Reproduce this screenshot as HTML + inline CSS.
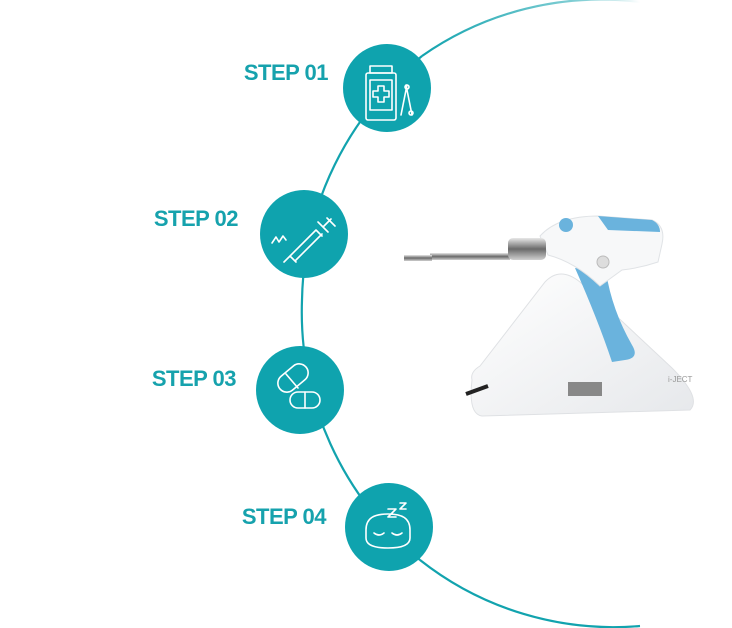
<!DOCTYPE html>
<html><head><meta charset="utf-8"><style>
html,body{margin:0;padding:0;background:#fff;}
svg{display:block}
</style></head><body>
<svg width="732" height="628" viewBox="0 0 732 628" xmlns="http://www.w3.org/2000/svg">
<defs>
<linearGradient id="fade" x1="0" y1="0" x2="1" y2="0">
<stop offset="0" stop-color="#12a3ae"/><stop offset="0.75" stop-color="#12a3ae" stop-opacity="0.5"/><stop offset="1" stop-color="#12a3ae" stop-opacity="0"/>
</linearGradient>
<linearGradient id="base" x1="0" y1="0" x2="1" y2="1">
<stop offset="0" stop-color="#ffffff"/><stop offset="1" stop-color="#e6e8eb"/>
</linearGradient>
<linearGradient id="metal" x1="0" y1="0" x2="0" y2="1">
<stop offset="0" stop-color="#e8e8e8"/><stop offset="0.5" stop-color="#6a6a6a"/><stop offset="1" stop-color="#d0d0d0"/>
</linearGradient>
</defs>
<path d="M640 2 A312 312 0 0 0 422 56" stroke="url(#fade)" stroke-width="2.2" fill="none"/>
<path d="M422 56 A320 320 0 0 0 302 300 A320 320 0 0 0 420 560" stroke="#12a3ae" stroke-width="2.2" fill="none"/>
<path d="M420 560 A312 312 0 0 0 640 626" stroke="#12a3ae" stroke-width="2.2" fill="none"/>
<g fill="#0fa3ae">
<circle cx="387" cy="88" r="44"/>
<circle cx="304" cy="234" r="44"/>
<circle cx="300" cy="390" r="44"/>
<circle cx="389" cy="527" r="44"/>
</g>
<g font-family="Liberation Sans, sans-serif" font-weight="bold" font-size="22" fill="#16a2ad" text-anchor="end" letter-spacing="-0.5">
<text x="328" y="80">STEP 01</text>
<text x="238" y="226">STEP 02</text>
<text x="236" y="386">STEP 03</text>
<text x="326" y="524">STEP 04</text>
</g>
<g stroke="#fff" stroke-width="1.6" fill="none" stroke-linecap="round" stroke-linejoin="round">
<rect x="370" y="66" width="22" height="7"/>
<rect x="366" y="73" width="30" height="47" rx="2"/>
<rect x="370" y="80" width="22" height="30"/>
<path d="M378 86h6v5h5v6h-5v5h-6v-5h-5v-6h5z"/>
<path d="M407 85l-6 30M406 85l6 30"/>
<circle cx="407" cy="87" r="2"/><circle cx="411" cy="113" r="2"/>
<path d="M284 262l8-8M290 256l26-26M296 260l26-26M290 256l6 6M316 230l6 6M318 222l10 10M323 227l8-8M327 218l8 8"/>
<path d="M272 243l4-6 3 5 4-6 3 4"/>
<rect x="276" y="369" width="34" height="18" rx="9" transform="rotate(-40 293 378)"/>
<path d="M286 374l12 14"/>
<rect x="290" y="392" width="30" height="16" rx="8"/>
<path d="M305 392v16"/>
<path d="M366 530c0-12 8-16 22-16s22 4 22 16v8c0 6-6 10-22 10s-22-4-22-10z"/>
<path d="M374 533q5 4 10 0M392 533q5 4 10 0"/>
<path d="M388 509h8l-8 8h8M400 503h6l-6 6h6"/>
</g>
<!-- device base -->
<path d="M472 380 Q470 372 480 366 L545 282 Q560 266 580 282 L672 368 Q702 398 690 410 L482 416 Q468 414 472 380z" fill="url(#base)" stroke="#dfe1e4"/>
<rect x="568" y="382" width="34" height="14" fill="#888"/>
<text x="668" y="382" font-family="Liberation Sans, sans-serif" font-size="8" fill="#999">i-JECT</text>
<path d="M466 394 l22 -8" stroke="#222" stroke-width="4"/>
<!-- grip -->
<path d="M575 268 L606 272 Q612 310 632 345 Q640 358 625 360 L612 362 Q598 320 575 268z" fill="#6ab3dd"/>
<!-- gun body -->
<path d="M540 236 Q558 216 598 216 L652 220 Q666 226 662 244 L658 262 Q640 268 622 270 L600 286 Q575 262 548 255z" fill="#f7f8f9" stroke="#e0e3e6"/>
<path d="M598 216 L652 220 Q660 224 660 232 L608 230z" fill="#6ab3dd"/>
<circle cx="566" cy="225" r="7" fill="#6ab3dd"/>
<circle cx="603" cy="262" r="6" fill="#ddd" stroke="#bbb"/>
<!-- barrel -->
<rect x="430" y="253" width="80" height="7" fill="url(#metal)"/>
<rect x="404" y="255" width="28" height="6" fill="url(#metal)"/>
<rect x="508" y="238" width="38" height="22" rx="5" fill="url(#metal)"/>
</svg>
</body></html>
